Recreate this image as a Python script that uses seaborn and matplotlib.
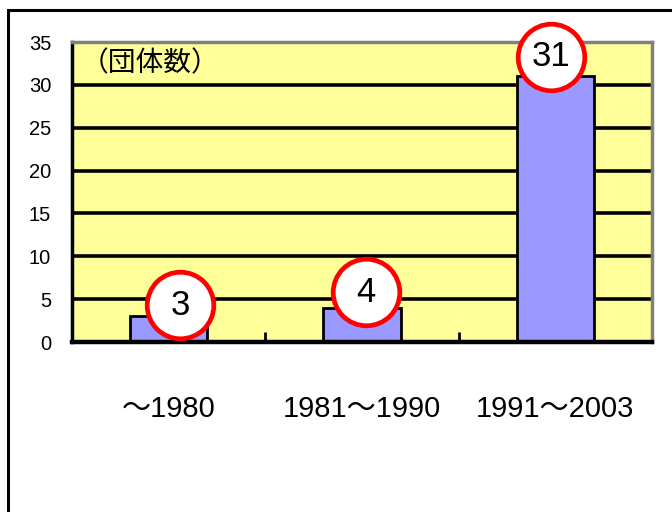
import matplotlib
matplotlib.use("Agg")
import matplotlib.pyplot as plt
import seaborn as sns
import pandas as pd
from matplotlib.patches import Rectangle

categories = ["～1980", "1981～1990", "1991～2003"]
values = [3, 4, 31]
yticks = [0, 5, 10, 15, 20, 25, 30, 35]
unit_label = "（団体数）"

sns.set_theme(style="white")
plt.rcParams['font.family'] = ['Liberation Sans', 'Noto Sans CJK JP', 'DejaVu Sans']
plt.rcParams['text.color'] = 'black'
plt.rcParams['xtick.color'] = 'black'
plt.rcParams['ytick.color'] = 'black'
plt.rcParams['xtick.labelcolor'] = 'black'
plt.rcParams['ytick.labelcolor'] = 'black'

df = pd.DataFrame({"cat": categories, "val": values})

fig = plt.figure(figsize=(6.72, 5.12), dpi=100)
fig.patch.set_facecolor("white")
ax = fig.add_axes([72/672, 1-342/512, 580/672, 300/512])
ax.set_facecolor("#FFFF99")

# outer frame (cropped at right and bottom)
fig.patches.append(Rectangle((8/672, -0.1), 1.2, 1-10/512+0.1, transform=fig.transFigure,
                             fill=False, edgecolor="black", linewidth=2.2, zorder=0))

for y in yticks[1:-1]:
    ax.axhline(y, color="black", linewidth=2.6, zorder=1)

sns.barplot(data=df, x="cat", y="val", ax=ax, width=0.4, color="#9999FF",
            edgecolor="black", linewidth=2, saturation=1, zorder=2)

ax.set_xlim(-0.5, 2.5)
ax.set_ylim(0, 35)
ax.set_yticks(yticks)
ax.set_yticklabels([str(t) for t in yticks], fontsize=14.5, color="black")
ax.tick_params(axis="y", length=0, pad=15)
ax.set_xticks(range(len(categories)))
ax.set_xticklabels(categories, fontsize=21, color="black")
ax.tick_params(axis="x", which="major", length=0, pad=38)
ax.set_xticks([0.5, 1.5], minor=True)
ax.tick_params(axis="x", which="minor", bottom=True, direction="in", length=7, width=2,
               color="black")
ax.set_xlabel("")
ax.set_ylabel("")

for s in ["top", "right"]:
    ax.spines[s].set_color("#808080")
    ax.spines[s].set_linewidth(2.5)
ax.spines["left"].set_color("black")
ax.spines["left"].set_linewidth(2.5)
ax.spines["bottom"].set_color("black")
ax.spines["bottom"].set_linewidth(3.2)

ax.text(0.015, 0.93, unit_label, transform=ax.transAxes, fontsize=20, color="black",
        family=['Noto Sans CJK JP', 'DejaVu Sans'], va="center", ha="left", zorder=5)

# circled value labels
offsets = [(0.06, 1.3), (0.02, 1.8), (-0.02, 2.3)]
for i, (v, (dx, dy)) in enumerate(zip(values, offsets)):
    ax.scatter(i + dx, v + dy, s=2300, facecolor="white", edgecolor="#FF0000",
               linewidth=3.4, zorder=6, clip_on=False)
    ax.text(i + dx, v + dy, str(v), ha="center", va="center", fontsize=25, color="black",
            family=['Liberation Sans', 'DejaVu Sans'], zorder=7, clip_on=False)

fig.savefig("out.png", dpi=100)
